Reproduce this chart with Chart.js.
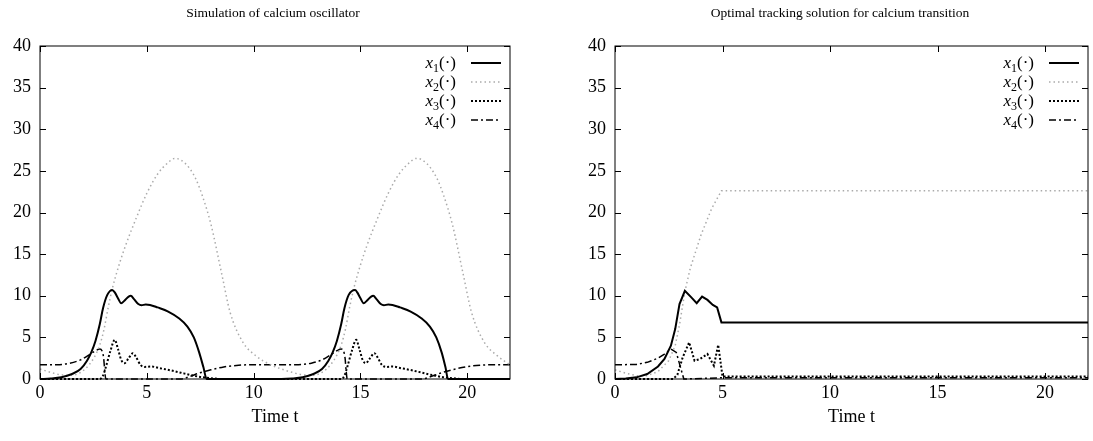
<!DOCTYPE html>
<html>
<head>
<meta charset="utf-8">
<script src="https://cdn.jsdelivr.net/npm/chart.js@4.4.1/dist/chart.umd.min.js"></script>
<style>
  html, body { margin: 0; padding: 0; background: #fff; overflow: hidden; width: 1093px; height: 441px; }
  #simChart { position: absolute; left: 0; top: 0; }
  #optChart { position: absolute; left: 575px; top: 0; }
</style>
</head>
<body>
<canvas id="simChart" width="546" height="441"></canvas>
<canvas id="optChart" width="530" height="441"></canvas>
<script>
// tick labels
const xTicks = [0, 5, 10, 15, 20];
const yTicks = [0, 5, 10, 15, 20, 25, 30, 35, 40];
const seriesNames = ['x1(·)', 'x2(·)', 'x3(·)', 'x4(·)'];

// left: simulation of calcium oscillator
const simT1 = [0, 0.5, 1.0, 1.5, 1.9, 2.2, 2.4, 2.6, 2.8, 2.95, 3.15, 3.38, 3.5, 3.65, 3.8, 3.95, 4.15, 4.25, 4.4, 4.6, 4.75, 4.95, 5.15, 5.5, 6.0, 6.5, 6.9, 7.2, 7.45, 7.65, 7.8, 11.3,
  11.8, 12.3, 12.8, 13.2, 13.5, 13.7, 13.9, 14.1, 14.25, 14.45, 14.75, 14.85, 15.0, 15.15, 15.3, 15.5, 15.6, 15.75, 15.95, 16.1, 16.3, 16.5, 16.85, 17.35, 17.85, 18.25, 18.55, 18.8, 18.98, 19.1, 22];
const simX1 = [0, 0.05, 0.2, 0.6, 1.2, 2.2, 3.2, 4.6, 6.6, 8.5, 10.1, 10.7, 10.4, 9.7, 9.1, 9.4, 9.9, 10.0, 9.6, 9.0, 8.85, 8.95, 8.9, 8.6, 8.1, 7.3, 6.3, 5.0, 3.2, 1.4, 0, 0,
  0.05, 0.2, 0.6, 1.2, 2.2, 3.2, 4.6, 6.6, 8.5, 10.1, 10.7, 10.4, 9.7, 9.1, 9.4, 9.9, 10.0, 9.6, 9.0, 8.85, 8.95, 8.9, 8.6, 8.1, 7.3, 6.3, 5.0, 3.2, 1.4, 0, 0];

const simT2 = [0, 0.5, 1.0, 1.5, 1.9, 2.3, 2.6, 2.8, 3.0, 3.2, 3.4, 3.7, 4.0, 4.5, 5.0, 5.5, 6.0, 6.3, 6.6, 7.0, 7.3, 7.6, 8.0, 8.5, 8.9, 9.5, 10.1, 10.8, 11.3,
  11.8, 12.3, 12.8, 13.2, 13.6, 13.9, 14.1, 14.3, 14.5, 14.7, 15.0, 15.3, 15.8, 16.3, 16.8, 17.3, 17.6, 17.9, 18.3, 18.6, 18.9, 19.3, 19.8, 20.2, 20.8, 21.4, 22];
const simX2 = [1.2, 0.8, 0.5, 0.45, 0.8, 1.7, 2.9, 4.1, 6.0, 8.7, 11.0, 13.7, 16.0, 19.3, 22.3, 24.6, 26.0, 26.5, 26.3, 25.3, 24.0, 22.0, 18.6, 12.7, 8.0, 4.4, 2.8, 1.7, 1.2,
  0.8, 0.5, 0.45, 0.8, 1.7, 2.9, 4.1, 6.0, 8.7, 11.0, 13.7, 16.0, 19.3, 22.3, 24.6, 26.0, 26.5, 26.3, 25.3, 24.0, 22.0, 18.6, 12.7, 8.0, 4.4, 2.8, 1.7];

const simT3 = [0, 2.8, 2.95, 3.1, 3.3, 3.5, 3.65, 3.8, 3.95, 4.15, 4.35, 4.5, 4.7, 4.9, 5.2, 5.6, 6.1, 6.6, 7.1, 7.5, 8.0, 8.5, 14.1,
  14.25, 14.4, 14.6, 14.8, 14.95, 15.1, 15.25, 15.45, 15.65, 15.8, 16.0, 16.2, 16.5, 16.9, 17.4, 17.9, 18.4, 18.8, 19.3, 19.8, 22];
const simX3 = [0, 0, 0.4, 1.6, 3.4, 4.7, 3.6, 2.3, 1.9, 2.5, 3.1, 2.6, 1.7, 1.45, 1.5, 1.3, 1.05, 0.75, 0.45, 0.25, 0.1, 0, 0,
  0.4, 1.6, 3.4, 4.7, 3.6, 2.3, 1.9, 2.5, 3.1, 2.6, 1.7, 1.45, 1.5, 1.3, 1.05, 0.75, 0.45, 0.25, 0.1, 0, 0];

const simT4 = [0, 0.8, 1.4, 1.9, 2.3, 2.6, 2.8, 2.9, 2.98, 3.03, 3.08, 6.6, 7.0, 7.5, 8.0, 8.6, 9.3, 10.0, 11.3,
  12.1, 12.7, 13.2, 13.6, 13.9, 14.1, 14.2, 14.28, 14.33, 14.38, 17.9, 18.3, 18.8, 19.3, 19.9, 20.6, 21.3, 22];
const simX4 = [1.7, 1.72, 1.9, 2.3, 2.9, 3.4, 3.6, 3.4, 2.5, 1.0, 0, 0, 0.3, 0.75, 1.1, 1.45, 1.65, 1.72, 1.7,
  1.72, 1.9, 2.3, 2.9, 3.4, 3.6, 3.4, 2.5, 1.0, 0, 0, 0.3, 0.75, 1.1, 1.45, 1.65, 1.72, 1.7];

// right: optimal tracking solution
const optT1 = [0, 0.5, 1.0, 1.5, 2.0, 2.3, 2.6, 2.8, 3.0, 3.25, 3.55, 3.8, 4.05, 4.3, 4.55, 4.75, 4.95, 22];
const optX1 = [0, 0.05, 0.2, 0.6, 1.5, 2.4, 4.0, 6.0, 9.0, 10.6, 9.8, 9.1, 9.9, 9.5, 8.9, 8.6, 6.8, 6.8];
const optT2 = [0, 0.5, 1.0, 1.5, 2.0, 2.5, 2.8, 3.0, 3.25, 3.5, 4.0, 4.5, 4.95, 22];
const optX2 = [1.1, 0.7, 0.4, 0.4, 0.9, 2.2, 4.0, 6.5, 10.5, 13.3, 17.3, 20.5, 22.6, 22.6];
const optT3 = [0, 2.7, 2.9, 3.15, 3.45, 3.7, 3.95, 4.3, 4.6, 4.8, 5.0, 22];
const optX3 = [0, 0, 0.5, 2.6, 4.4, 2.2, 2.4, 3.0, 1.6, 4.1, 0.3, 0.3];
const optT4 = [0, 1.0, 1.5, 2.0, 2.3, 2.6, 2.85, 3.2, 5.0, 22];
const optX4 = [1.7, 1.75, 2.0, 2.5, 3.0, 3.6, 3.2, 0, 0.15, 0.15];

const serif = '"Liberation Serif", "DejaVu Serif", serif';

const styles = [
  { borderColor: '#000', borderWidth: 2, borderDash: [] },
  { borderColor: '#aaa', borderWidth: 1.5, borderDash: [1.5, 3] },
  { borderColor: '#000', borderWidth: 2, borderDash: [2, 2] },
  { borderColor: '#000', borderWidth: 1.5, borderDash: [7, 3, 2, 3] }
];

function pts(ts, vs) {
  return ts.map((t, i) => ({ x: t, y: vs[i] }));
}

// title centred on the whole canvas, like gnuplot's set title
const titlePlugin = {
  id: 'gpTitle',
  afterDraw(chart) {
    const ctx = chart.ctx;
    ctx.save();
    ctx.fillStyle = '#000';
    ctx.font = '13.5px ' + serif;
    ctx.textAlign = 'center';
    ctx.textBaseline = 'middle';
    ctx.fillText(chart.options.gpTitle, chart.width / 2, 13);
    ctx.restore();
  }
};

// gnuplot-like frame with inward ticks on all four sides
const framePlugin = {
  id: 'frame',
  afterDatasetsDraw(chart) {
    const { ctx, chartArea: a, scales: { x, y } } = chart;
    ctx.save();
    ctx.strokeStyle = '#000';
    ctx.lineWidth = 1;
    ctx.setLineDash([]);
    ctx.strokeRect(a.left, a.top, a.right - a.left, a.bottom - a.top);
    ctx.beginPath();
    xTicks.forEach(v => {
      const px = Math.round(x.getPixelForValue(v)) + 0.5;
      ctx.moveTo(px, a.bottom); ctx.lineTo(px, a.bottom - 6);
      ctx.moveTo(px, a.top); ctx.lineTo(px, a.top + 6);
    });
    yTicks.forEach(v => {
      const py = Math.round(y.getPixelForValue(v)) + 0.5;
      ctx.moveTo(a.left, py); ctx.lineTo(a.left + 6, py);
      ctx.moveTo(a.right, py); ctx.lineTo(a.right - 6, py);
    });
    ctx.stroke();
    ctx.restore();
  }
};

// key in the top right corner: italic x, subscript index, then (·)
const keyPlugin = {
  id: 'gpKey',
  afterDraw(chart) {
    const { ctx, chartArea: a } = chart;
    ctx.save();
    ctx.fillStyle = '#000';
    ctx.textBaseline = 'alphabetic';
    chart.data.datasets.forEach((ds, i) => {
      const yc = a.top + 17 + i * 19;
      const name = ds.label;
      const parts = [
        { s: name[0], f: 'italic 17px ' + serif, dy: 0 },
        { s: name[1], f: '12px ' + serif, dy: 4 },
        { s: name.slice(2), f: '17px ' + serif, dy: 0 }
      ];
      let w = 0;
      parts.forEach(p => { ctx.font = p.f; p.w = ctx.measureText(p.s).width; w += p.w; });
      let xx = a.right - 54 - w;
      parts.forEach(p => {
        ctx.font = p.f;
        ctx.fillText(p.s, xx, yc + 5 + p.dy);
        xx += p.w;
      });
      ctx.beginPath();
      ctx.strokeStyle = ds.borderColor;
      ctx.lineWidth = ds.borderWidth;
      ctx.setLineDash(ds.borderDash);
      ctx.moveTo(a.right - 39, yc);
      ctx.lineTo(a.right - 9, yc);
      ctx.stroke();
    });
    ctx.restore();
  }
};

function makeChart(id, title, series, smooth, padRight) {
  return new Chart(document.getElementById(id), {
    type: 'line',
    data: {
      datasets: series.map((d, i) => ({
        label: seriesNames[i],
        data: d,
        borderColor: styles[i].borderColor,
        borderWidth: styles[i].borderWidth,
        borderDash: styles[i].borderDash,
        pointRadius: 0,
        fill: false,
        tension: smooth ? 0.4 : 0,
        cubicInterpolationMode: smooth ? 'monotone' : 'default',
        clip: 4
      }))
    },
    options: {
      responsive: false,
      animation: false,
      gpTitle: title,
      layout: { padding: { left: 0, right: padRight, top: 46, bottom: 0 } },
      plugins: {
        legend: { display: false },
        tooltip: { enabled: false },
        title: { display: false }
      },
      scales: {
        x: {
          type: 'linear',
          min: 0,
          max: 22,
          grid: { display: false, drawTicks: false },
          border: { display: false },
          ticks: {
            stepSize: 5, includeBounds: false, maxRotation: 0, padding: 3,
            color: '#000', font: { family: serif, size: 18 }
          },
          title: {
            display: true, text: 'Time t', color: '#000',
            font: { family: serif, size: 18 }, padding: { top: 0, bottom: 13 }
          },
          afterFit(s) { s.height = 62; }
        },
        y: {
          min: 0,
          max: 40,
          grid: { display: false, drawTicks: false },
          border: { display: false },
          ticks: {
            stepSize: 5, includeBounds: false, padding: 9,
            color: '#000', font: { family: serif, size: 18 }
          },
          afterFit(s) { s.width = 40; }
        }
      }
    },
    plugins: [titlePlugin, framePlugin, keyPlugin]
  });
}

makeChart('simChart', 'Simulation of calcium oscillator',
  [pts(simT1, simX1), pts(simT2, simX2), pts(simT3, simX3), pts(simT4, simX4)], true, 36);

makeChart('optChart', 'Optimal tracking solution for calcium transition',
  [pts(optT1, optX1), pts(optT2, optX2), pts(optT3, optX3), pts(optT4, optX4)], false, 17);
</script>
</body>
</html>
